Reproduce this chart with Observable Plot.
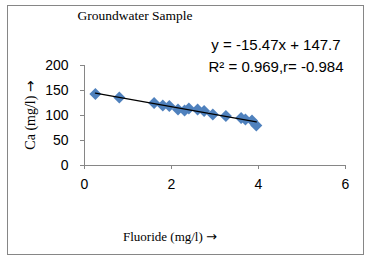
<!DOCTYPE html>
<html><head><meta charset="utf-8">
<script src="https://cdn.jsdelivr.net/npm/d3@7"></script>
<script src="https://cdn.jsdelivr.net/npm/@observablehq/plot@0.6"></script>
<style>body{margin:0;background:#fff}</style>
</head><body><div id="chart"></div><script>
const fluoride = [0.25, 0.8, 1.6, 1.8, 1.95, 2.15, 2.3, 2.4, 2.6, 2.75, 2.95, 3.25, 3.6, 3.7, 3.85, 3.95];
const calcium  = [143, 136, 125, 120, 119, 112, 110, 114, 112, 109, 102, 99, 95, 92, 90, 80];
const xTicks = [0, 2, 4, 6];
const yTicks = [0, 50, 100, 150, 200];
const titleText = "Groundwater Sample";
const eqLine1 = "y = -15.47x + 147.7";
const eqLine2 = "R² = 0.969,r= -0.984";
const xLabel = "Fluoride (mg/l) ";
const yLabel = "Ca (mg/l) ";
const arrow = "→";

const data = fluoride.map((x, i) => ({x, y: calcium[i]}));
// least-squares fit computed from the data
const mx = d3.mean(fluoride), my = d3.mean(calcium);
const slope = d3.sum(fluoride, (x, i) => (x - mx) * (calcium[i] - my)) / d3.sum(fluoride, x => (x - mx) ** 2);
const icpt = my - slope * mx;
const fit = d3.extent(fluoride).map(x => ({x, y: icpt + slope * x}));

const plot = Plot.plot({
  width: 369, height: 260,
  marginLeft: 84, marginRight: 24, marginTop: 65, marginBottom: 95,
  style: {fontFamily: "Liberation Sans", fontSize: "14px", color: "#000", background: "#fff"},
  x: {domain: [0, 6], label: null},
  y: {domain: [0, 200], label: null},
  marks: [
    Plot.axisX({ticks: xTicks, tickFormat: d3.format("d"), tickSize: 4, tickPadding: 10, stroke: "#868686", fill: "#000", fontSize: 14}),
    Plot.axisY({ticks: yTicks, tickFormat: d3.format("d"), tickSize: 4, tickPadding: 12, stroke: "#868686", fill: "#000", fontSize: 14}),
    Plot.ruleY([0], {stroke: "#868686"}),
    Plot.ruleX([0], {stroke: "#868686"}),
    Plot.dot(data, {x: "x", y: "y", symbol: "diamond2", r: 5.4, fill: "#4F81BD", stroke: "none"}),
    Plot.line(fit, {x: "x", y: "y", stroke: "#000", strokeWidth: 1.2})
  ]
});
const svg = d3.select(plot);
svg.insert("rect", ":first-child").attr("x", 7.5).attr("y", 5.5).attr("width", 356).attr("height", 249)
  .attr("fill", "#fff").attr("stroke", "#868686");
svg.append("text").attr("x", 135).attr("y", 20).attr("text-anchor", "middle")
  .style("font-family", "Liberation Serif").style("font-size", "13.5px").text(titleText);
svg.append("text").attr("x", 276).attr("y", 50).attr("text-anchor", "middle")
  .style("font-family", "Liberation Sans").style("font-size", "15px").text(eqLine1);
svg.append("text").attr("x", 276).attr("y", 72).attr("text-anchor", "middle")
  .style("font-family", "Liberation Sans").style("font-size", "15px").text(eqLine2);
const xl = svg.append("text").attr("x", 170).attr("y", 241).attr("text-anchor", "middle")
  .style("font-family", "Liberation Serif").style("font-size", "13px");
xl.append("tspan").text(xLabel);
xl.append("tspan").style("font-family", "DejaVu Sans").text(arrow);
const yl = svg.append("text").attr("transform", "translate(35,115) rotate(-90)").attr("text-anchor", "middle")
  .style("font-family", "Liberation Serif").style("font-size", "14px");
yl.append("tspan").text(yLabel);
yl.append("tspan").style("font-family", "DejaVu Sans").text(arrow);
document.getElementById("chart").append(plot);
</script></body></html>
